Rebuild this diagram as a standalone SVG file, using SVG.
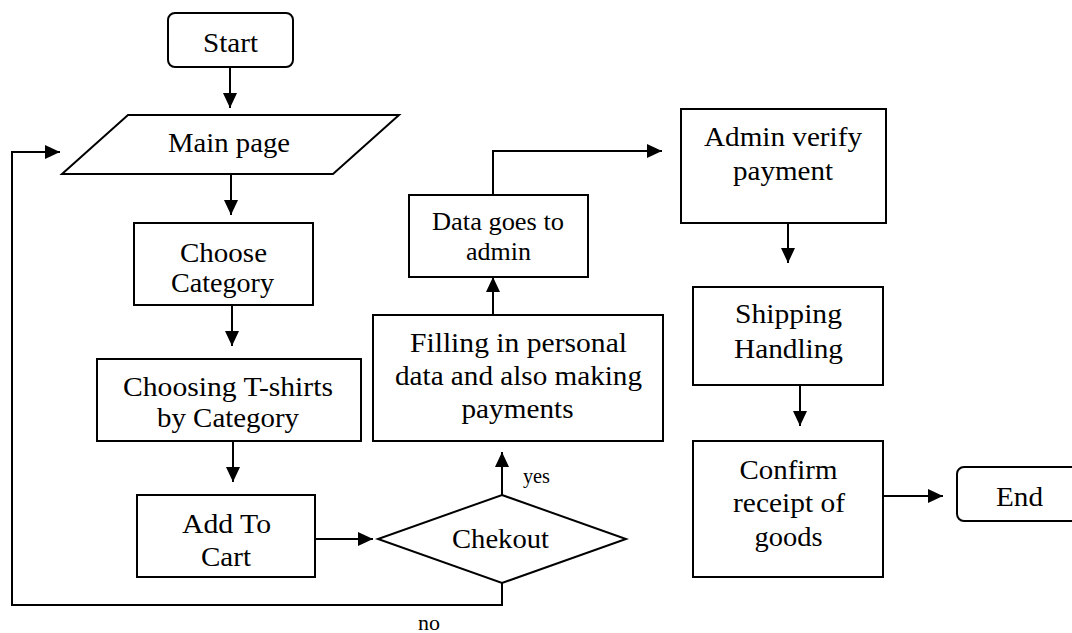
<svg xmlns="http://www.w3.org/2000/svg" width="1072" height="633" viewBox="0 0 1072 633">
  <defs>
    <marker id="arr" markerUnits="userSpaceOnUse" markerWidth="15" markerHeight="14" refX="15" refY="7" orient="auto">
      <path d="M0,0 L15,7 L0,14 z" fill="#000"/>
    </marker>
    <style>
      .shape { fill: #fff; stroke: #000; stroke-width: 2; }
      .conn { fill: none; stroke: #000; stroke-width: 2; }
      .arrow { marker-end: url(#arr); }
      text { font-family: "Liberation Serif", "Times New Roman", serif; fill: #000; text-anchor: middle; }
      .t { font-size: 28px; }
      .s { font-size: 25px; }
      .lbl { font-size: 20px; text-anchor: start; }
    </style>
  </defs>
  <rect width="1072" height="633" fill="#fff"/>

  <g id="connectors">
    <path class="conn arrow" d="M230,67 V108"/>
    <path class="conn arrow" d="M231,174 V215"/>
    <path class="conn arrow" d="M232,305 V346"/>
    <path class="conn arrow" d="M233,441 V482"/>
    <path class="conn arrow" d="M315,539 H373"/>
    <path class="conn arrow" d="M502,495 V452"/>
    <path class="conn arrow" d="M493,315 V277"/>
    <path class="conn arrow" d="M493,195 V151 H662"/>
    <path class="conn arrow" d="M788,223 V263"/>
    <path class="conn arrow" d="M800,385 V426"/>
    <path class="conn arrow" d="M883,496 H943"/>
    <path class="conn arrow" d="M502,583 V605 H12 V152 H60"/>
    <text class="lbl" x="523" y="483" textLength="27" lengthAdjust="spacingAndGlyphs">yes</text>
    <text class="lbl" x="418" y="630" textLength="22" lengthAdjust="spacingAndGlyphs">no</text>
  </g>

  <g id="start">
    <rect class="shape" x="168" y="13" width="125" height="54" rx="7"/>
    <text class="t" x="230.5" y="52" textLength="55" lengthAdjust="spacingAndGlyphs">Start</text>
  </g>

  <g id="main-page">
    <polygon class="shape" points="128,115 399,115 333,174 62,174"/>
    <text class="t" x="229" y="152" textLength="122" lengthAdjust="spacingAndGlyphs">Main page</text>
  </g>

  <g id="choose-category">
    <rect class="shape" x="134" y="223" width="179" height="82"/>
    <text class="t" x="223.5" y="262" textLength="87" lengthAdjust="spacingAndGlyphs">Choose</text>
    <text class="t" x="222.5" y="292" textLength="103" lengthAdjust="spacingAndGlyphs">Category</text>
  </g>

  <g id="choosing-tshirts">
    <rect class="shape" x="97" y="359" width="264" height="82"/>
    <text class="t" x="228" y="396" textLength="210" lengthAdjust="spacingAndGlyphs">Choosing T-shirts</text>
    <text class="t" x="228" y="427" textLength="142" lengthAdjust="spacingAndGlyphs">by Category</text>
  </g>

  <g id="add-to-cart">
    <rect class="shape" x="137" y="495" width="178" height="82"/>
    <text class="t" x="226.5" y="533" textLength="89" lengthAdjust="spacingAndGlyphs">Add To</text>
    <text class="t" x="226" y="566" textLength="50" lengthAdjust="spacingAndGlyphs">Cart</text>
  </g>

  <g id="checkout">
    <polygon class="shape" points="502,495 626,539 502,583 378,539"/>
    <text class="t" x="500.5" y="548" textLength="97" lengthAdjust="spacingAndGlyphs">Chekout</text>
  </g>

  <g id="filling-data">
    <rect class="shape" x="373" y="315" width="290" height="126"/>
    <text class="t" x="518.5" y="352" textLength="217" lengthAdjust="spacingAndGlyphs">Filling in personal</text>
    <text class="t" x="518.5" y="385" textLength="247" lengthAdjust="spacingAndGlyphs">data and also making</text>
    <text class="t" x="517.5" y="418" textLength="112" lengthAdjust="spacingAndGlyphs">payments</text>
  </g>

  <g id="data-to-admin">
    <rect class="shape" x="409" y="195" width="179" height="82"/>
    <text class="s" x="498" y="230" textLength="132" lengthAdjust="spacingAndGlyphs">Data goes to</text>
    <text class="s" x="498.5" y="260" textLength="65" lengthAdjust="spacingAndGlyphs">admin</text>
  </g>

  <g id="admin-verify">
    <rect class="shape" x="681" y="109" width="205" height="114"/>
    <text class="t" x="783" y="146" textLength="158" lengthAdjust="spacingAndGlyphs">Admin verify</text>
    <text class="t" x="783" y="180" textLength="100" lengthAdjust="spacingAndGlyphs">payment</text>
  </g>

  <g id="shipping">
    <rect class="shape" x="693" y="287" width="190" height="98"/>
    <text class="t" x="788.5" y="323" textLength="107" lengthAdjust="spacingAndGlyphs">Shipping</text>
    <text class="t" x="788.5" y="358" textLength="109" lengthAdjust="spacingAndGlyphs">Handling</text>
  </g>

  <g id="confirm">
    <rect class="shape" x="693" y="441" width="190" height="136"/>
    <text class="t" x="788.5" y="479" textLength="98" lengthAdjust="spacingAndGlyphs">Confirm</text>
    <text class="t" x="789" y="512" textLength="112" lengthAdjust="spacingAndGlyphs">receipt of</text>
    <text class="t" x="788.5" y="546" textLength="68" lengthAdjust="spacingAndGlyphs">goods</text>
  </g>

  <g id="end">
    <rect class="shape" x="957" y="467" width="125" height="54" rx="7"/>
    <text class="t" x="1019.5" y="506" textLength="47" lengthAdjust="spacingAndGlyphs">End</text>
  </g>
</svg>
